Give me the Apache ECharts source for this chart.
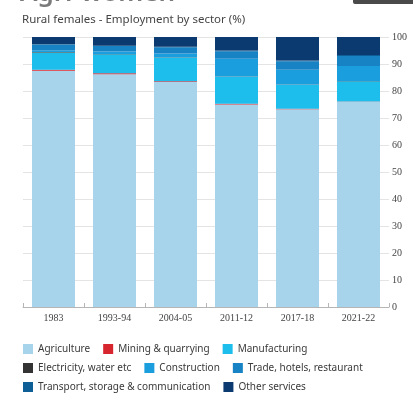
<!DOCTYPE html>
<html>
<head>
<meta charset="utf-8">
<script src="https://cdn.jsdelivr.net/npm/echarts@6/dist/echarts.min.js"></script>
<style>
  html, body { margin: 0; padding: 0; background: #ffffff; }
  #chart { width: 413px; height: 401px; }
</style>
</head>
<body>
<div id="chart"></div>
<script>
// Survey rounds
var years = ['1983', '1993-94', '2004-05', '2011-12', '2017-18', '2021-22'];

// Share of rural female workers by sector (%)
var agriculture   = [87.5, 86.2, 83.3, 75.0, 73.2, 76.0];
var mining        = [0.4, 0.4, 0.3, 0.3, 0.2, 0.1];
var manufacturing = [6.4, 7.0, 8.8, 10.0, 8.9, 7.5];
var electricity   = [0.1, 0.1, 0.1, 0.1, 0.1, 0.1];
var construction  = [0.7, 0.9, 1.4, 6.5, 5.5, 5.6];
var trade         = [2.1, 2.1, 2.3, 2.8, 3.1, 3.7];
var transport     = [0.1, 0.1, 0.2, 0.3, 0.3, 0.3];
var otherServices = [2.7, 3.2, 3.6, 5.0, 8.7, 6.7];

var yTicks = [0, 10, 20, 30, 40, 50, 60, 70, 80, 90, 100];

var sectorNames = [
  'Agriculture', 'Mining & quarrying', 'Manufacturing',
  'Electricity, water etc', 'Construction', 'Trade, hotels, restaurant',
  'Transport, storage & communication', 'Other services'
];
var sectorValues = [agriculture, mining, manufacturing, electricity,
                    construction, trade, transport, otherServices];
var sectorColors = ['#a7d4ea', '#d8262f', '#1dbdec', '#333333',
                    '#1a9edd', '#1782c4', '#0e5f95', '#0b3a70'];

var series = sectorNames.map(function (name, i) {
  return {
    name: name,
    type: 'bar',
    stack: 'total',
    barWidth: 43,
    data: sectorValues[i],
    itemStyle: { color: sectorColors[i] },
    emphasis: { disabled: true }
  };
});

var legendText = { fontFamily: 'Noto Sans', fontSize: 10, color: '#3a3a3a' };
function legendRow(names, top) {
  return {
    data: names,
    left: 18,
    top: top,
    orient: 'horizontal',
    itemWidth: 10,
    itemHeight: 10,
    itemGap: 13,
    icon: 'rect',
    selectedMode: false,
    textStyle: legendText
  };
}

var chart = echarts.init(document.getElementById('chart'), null, { renderer: 'canvas' });
chart.setOption({
  animation: false,
  backgroundColor: '#ffffff',
  graphic: [
    {
      type: 'text',
      x: 20,
      y: 7,
      style: {
        text: 'Agri-women',
        font: '600 26px "Noto Sans"',
        fill: '#7a7a7a',
        verticalAlign: 'bottom'
      }
    },
    {
      type: 'rect',
      shape: { x: 353, y: -6, width: 62, height: 10, r: 2 },
      style: { fill: '#4a4a4a' }
    }
  ],
  title: {
    text: 'Rural females - Employment by sector (%)',
    left: 17,
    top: 9,
    textStyle: { fontFamily: 'Noto Sans', fontSize: 11.5, fontWeight: 'normal', color: '#444' }
  },
  legend: [
    legendRow(sectorNames.slice(0, 3), 339),
    legendRow(sectorNames.slice(3, 6), 358),
    legendRow(sectorNames.slice(6, 8), 377)
  ],
  grid: { left: 23, right: 24, top: 37, bottom: 94 },
  xAxis: {
    type: 'category',
    data: years,
    axisLine: { lineStyle: { color: '#b5b5b5', width: 1 } },
    axisTick: { show: true, inside: true, length: 4, lineStyle: { color: '#b5b5b5' } },
    axisLabel: { margin: 6, fontFamily: 'Liberation Serif', fontSize: 10, color: '#444' }
  },
  yAxis: {
    type: 'value',
    position: 'right',
    min: yTicks[0],
    max: yTicks[yTicks.length - 1],
    interval: 10,
    axisLine: { show: false },
    axisTick: { show: false },
    axisLabel: { margin: 3, fontFamily: 'Liberation Serif', fontSize: 10, color: '#444' },
    splitLine: { lineStyle: { color: '#e4e4e4', width: 1 } }
  },
  series: series
});
</script>
</body>
</html>
